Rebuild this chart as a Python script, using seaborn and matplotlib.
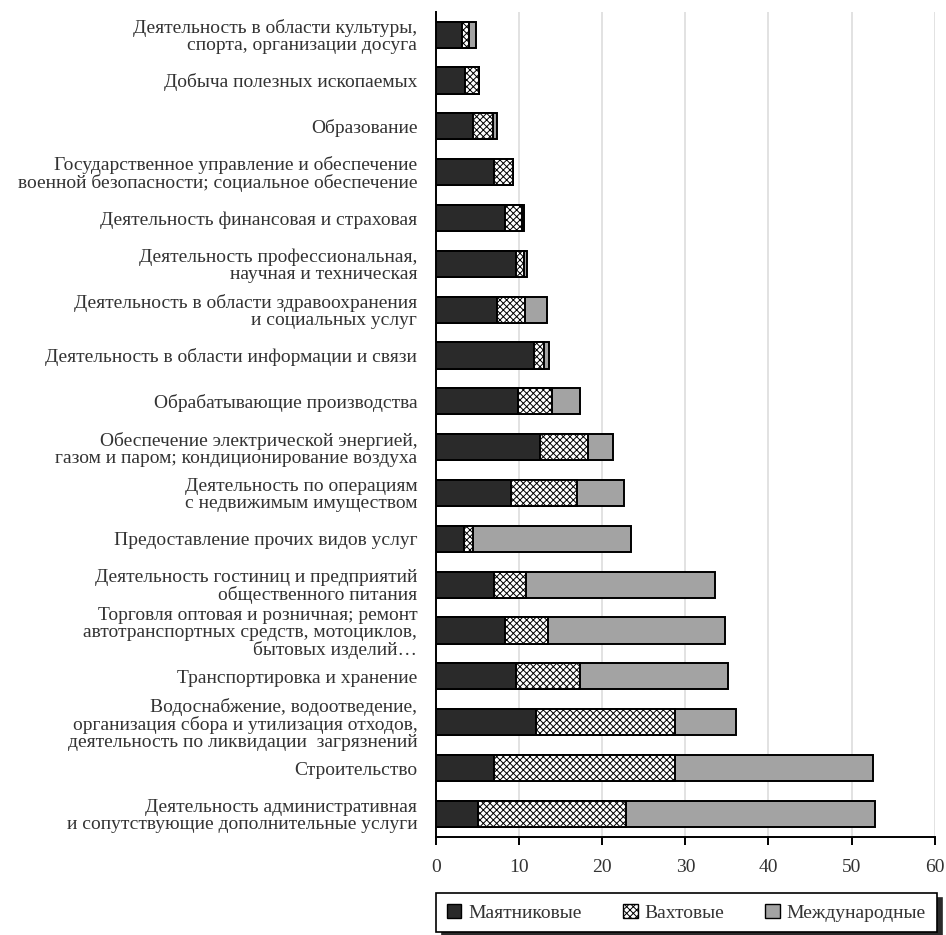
import numpy as np
import pandas as pd
import seaborn as sns
import matplotlib
matplotlib.use("Agg")
import matplotlib.pyplot as plt
from matplotlib.patches import Patch

# categories, top to bottom
categories = [
    "Деятельность в области культуры,\nспорта, организации досуга",
    "Добыча полезных ископаемых",
    "Образование",
    "Государственное управление и обеспечение\nвоенной безопасности; социальное обеспечение",
    "Деятельность финансовая и страховая",
    "Деятельность профессиональная,\nнаучная и техническая",
    "Деятельность в области здравоохранения\nи социальных услуг",
    "Деятельность в области информации и связи",
    "Обрабатывающие производства",
    "Обеспечение электрической энергией,\nгазом и паром; кондиционирование воздуха",
    "Деятельность по операциям\nс недвижимым имуществом",
    "Предоставление прочих видов услуг",
    "Деятельность гостиниц и предприятий\nобщественного питания",
    "Торговля оптовая и розничная; ремонт\nавтотранспортных средств, мотоциклов,\nбытовых изделий…",
    "Транспортировка и хранение",
    "Водоснабжение, водоотведение,\nорганизация сбора и утилизация отходов,\nдеятельность по ликвидации  загрязнений",
    "Строительство",
    "Деятельность административная\nи сопутствующие дополнительные услуги",
]
pendulum = [3.1, 3.5, 4.5, 7.0, 8.3, 9.6, 7.3, 11.8, 9.8, 12.5, 9.0, 3.3, 7.0, 8.3, 9.6, 12.0, 7.0, 5.1]
rotation = [0.9, 1.7, 2.3, 2.3, 2.0, 1.0, 3.4, 1.2, 4.2, 5.8, 8.0, 1.2, 3.8, 5.2, 7.7, 16.8, 21.8, 17.7]
international = [0.8, 0.0, 0.5, 0.0, 0.3, 0.3, 2.6, 0.6, 3.3, 3.0, 5.6, 19.0, 22.8, 21.3, 17.8, 7.3, 23.8, 30.0]
series_names = ["Маятниковые", "Вахтовые", "Международные"]

df = pd.DataFrame({
    "cat": categories,
    "s1": pendulum,
    "s2": rotation,
    "s3": international,
})
df["c2"] = df["s1"] + df["s2"]
df["c3"] = df["c2"] + df["s3"]

sns.set_style("white")
plt.rcParams["font.family"] = ["Liberation Serif", "DejaVu Serif"]
plt.rcParams["hatch.linewidth"] = 0.7

DARK = "#2a2a2a"
GRAY = "#a3a3a3"
TXT = "#333333"
FS = 14

fig = plt.figure(figsize=(9.46, 9.35), dpi=100)
ax = fig.add_axes([0.461, 0.105, 0.527, 0.8825])

bw = 0.57
sns.barplot(data=df, x="c3", y="cat", orient="h", color=GRAY, edgecolor="black",
            linewidth=1.4, width=bw, ax=ax, saturation=1)
sns.barplot(data=df, x="c2", y="cat", orient="h", color="white", edgecolor="black",
            linewidth=1.4, width=bw, hatch="xxxxx", ax=ax, saturation=1)
sns.barplot(data=df, x="s1", y="cat", orient="h", color=DARK, edgecolor="black",
            linewidth=1.4, width=bw, ax=ax, saturation=1)

ax.set_xlim(0, 60)
ax.set_ylim(17.5, -0.5)
ax.set_xticks(np.arange(0, 61, 10))
ax.xaxis.grid(True, color="#dddddd", linewidth=1.2)
ax.set_axisbelow(True)
ax.set_xlabel("")
ax.set_ylabel("")
for s in ["top", "right"]:
    ax.spines[s].set_visible(False)
ax.spines["left"].set_color("black")
ax.spines["left"].set_linewidth(1.4)
ax.spines["bottom"].set_color("black")
ax.spines["bottom"].set_linewidth(1.4)
ax.tick_params(axis="x", bottom=True, length=6, width=1.4, color="black",
               labelsize=FS, pad=10, labelcolor=TXT)
ax.tick_params(axis="y", left=False, labelsize=FS, pad=10, labelcolor=TXT)
for lbl in ax.get_yticklabels():
    lbl.set_linespacing(1.0)

handles = [
    Patch(facecolor=DARK, edgecolor="black", linewidth=1.0),
    Patch(facecolor="white", edgecolor="black", linewidth=1.0, hatch="xxxxx"),
    Patch(facecolor=GRAY, edgecolor="black", linewidth=1.0),
]
leg = ax.legend(handles, series_names, loc="upper left", ncol=3,
                bbox_to_anchor=(0.0, -0.108, 1.004, 0.04), mode="expand",
                borderaxespad=0,
                frameon=True, fancybox=False, framealpha=1, edgecolor="black",
                shadow={"ox": 4, "oy": -4, "color": DARK, "alpha": 1},
                fontsize=FS, handlelength=0.75, handleheight=0.75,
                handletextpad=0.35, borderpad=0.55, columnspacing=1.5,
                labelcolor=TXT)
leg.get_frame().set_linewidth(1.2)

fig.savefig("out.png", dpi=100)
